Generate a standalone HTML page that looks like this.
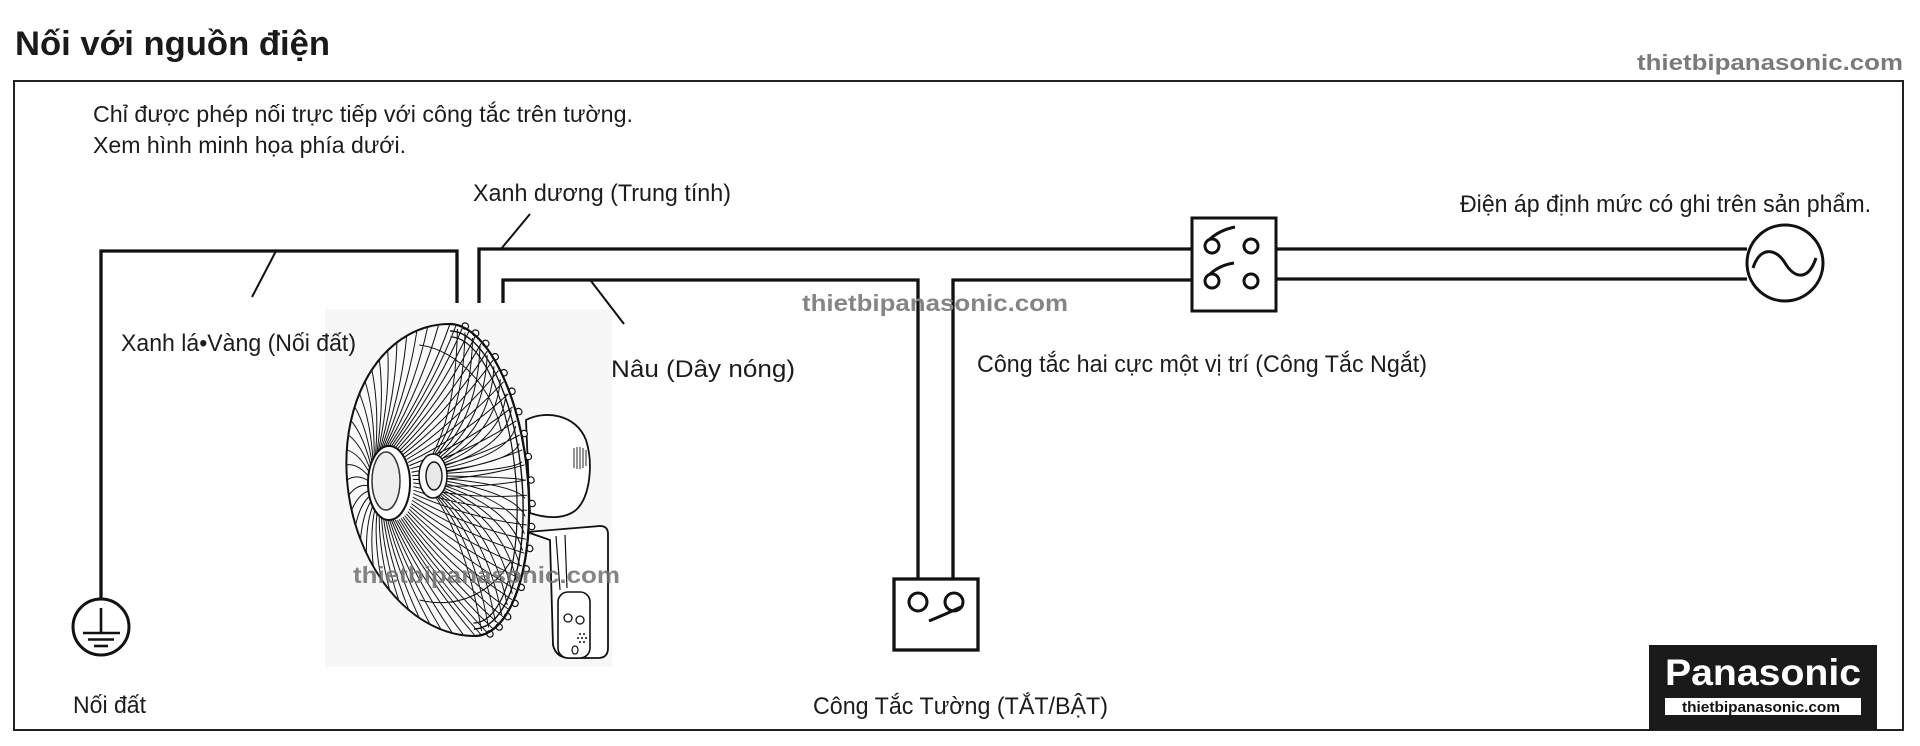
<!DOCTYPE html>
<html><head><meta charset="utf-8">
<style>
html,body{margin:0;padding:0;background:#fff;}
svg{display:block;}
text{font-family:"Liberation Sans",Arial,sans-serif;}
</style></head>
<body>
<svg id="root" width="1920" height="746" viewBox="0 0 1920 746" xmlns="http://www.w3.org/2000/svg">
<rect x="0" y="0" width="1920" height="746" fill="#fff"/>
<!-- title -->
<text x="15" y="55" font-size="34" font-weight="bold" fill="#1a1a1a" textLength="315" lengthAdjust="spacingAndGlyphs">Nối với nguồn điện</text>
<text x="1637" y="70" font-size="22" font-weight="bold" fill="#7a7a7a" textLength="266" lengthAdjust="spacingAndGlyphs">thietbipanasonic.com</text>
<!-- frame -->
<rect x="14" y="81" width="1889" height="649" fill="none" stroke="#222" stroke-width="2"/>

<text x="93" y="122" font-size="23" fill="#1c1c1c" textLength="540" lengthAdjust="spacingAndGlyphs">Chỉ được phép nối trực tiếp với công tắc trên tường.</text>
<text x="93" y="153" font-size="23" fill="#1c1c1c" textLength="313" lengthAdjust="spacingAndGlyphs">Xem hình minh họa phía dưới.</text>

<!-- fan backdrop -->
<rect x="325" y="309" width="287" height="358" fill="#f7f7f7"/>

<!-- wires -->
<g fill="none" stroke="#111" stroke-width="3.3" stroke-linejoin="miter">
  <path d="M101,599 V251 H457 V303"/>
  <path d="M479,303 V249 H1192"/>
  <path d="M503,303 V280 H918 V579"/>
  <path d="M953,579 V280 H1192"/>
  <path d="M1276,249 H1747"/>
  <path d="M1276,279 H1747"/>
</g>
<!-- leaders -->
<g stroke="#111" stroke-width="2" fill="none">
  <path d="M276,251 L252,297"/>
  <path d="M530,214 L501,249"/>
  <path d="M591,281 L624,324"/>
</g>

<!-- AC source -->
<circle cx="1785" cy="263" r="38" fill="#fff" stroke="#111" stroke-width="3"/>
<path d="M1753,268 C1760,246 1776,248 1785,263 S1808,282 1816,258" fill="none" stroke="#111" stroke-width="3"/>

<!-- double pole switch -->
<rect x="1192" y="218" width="84" height="93" fill="#fff" stroke="#111" stroke-width="3"/>
<g fill="none" stroke="#111" stroke-width="3">
  <circle cx="1212" cy="246" r="7"/>
  <circle cx="1251" cy="246" r="7"/>
  <circle cx="1212" cy="281" r="7"/>
  <circle cx="1251" cy="281" r="7"/>
  <path d="M1210,239 Q1220,230 1235,227"/>
  <path d="M1210,274 Q1220,265 1234,263"/>
</g>

<!-- wall switch -->
<rect x="894" y="579" width="84" height="71" fill="#fff" stroke="#111" stroke-width="3.3"/>
<g fill="none" stroke="#111" stroke-width="3">
  <circle cx="918" cy="602" r="9"/>
  <circle cx="954" cy="602" r="9"/>
  <path d="M929,621 Q946,614 961,607"/>
</g>

<!-- ground symbol -->
<circle cx="101" cy="627" r="28" fill="none" stroke="#111" stroke-width="3"/>
<g stroke="#111" stroke-width="2.6">
  <path d="M101,608 V633"/>
  <path d="M83,633 H120"/>
  <path d="M88,639.5 H114"/>
  <path d="M94,646 H108"/>
</g>

<!-- FAN -->
<g id="fan">
  <!-- motor housing -->
  <path d="M526,420 C545,410 576,414 586,440 C593,462 591,496 576,510 C562,521 542,517 530,513 Z" fill="#fff" stroke="#111" stroke-width="1.8"/>
  <g stroke="#111" stroke-width="0.9">
    <path d="M574,448 V468 M577,447 V469 M580,447 V469 M583,448 V468 M586,450 V466"/>
  </g>
  <!-- bracket -->
  <path d="M527,532 L600,526 Q608,526 608,534 L608,648 Q608,658 598,658 L570,658 Q556,658 553,645 L550,540 Z" fill="#fff" stroke="#111" stroke-width="1.8"/>
  <path d="M556,536 L560,590" stroke="#111" stroke-width="1.2" fill="none"/>
  <path d="M565,535 L567,588" stroke="#111" stroke-width="1.2" fill="none"/>
  <rect x="558" y="592" width="32" height="66" rx="10" fill="#fff" stroke="#111" stroke-width="1.6"/>
  <circle cx="568" cy="618" r="4" fill="none" stroke="#111" stroke-width="1.3"/>
  <circle cx="580" cy="620" r="4" fill="none" stroke="#111" stroke-width="1.3"/>
  <g fill="#111">
    <circle cx="580" cy="634" r="1"/><circle cx="584" cy="634" r="1"/>
    <circle cx="578" cy="638" r="1"/><circle cx="582" cy="638" r="1"/><circle cx="586" cy="638" r="1"/>
    <circle cx="580" cy="642" r="1"/><circle cx="584" cy="642" r="1"/>
  </g>
  <ellipse cx="575" cy="650" rx="3" ry="4" fill="none" stroke="#111" stroke-width="1.2"/>

  <!-- grill (skewed group) -->
  <g transform="matrix(1 0 0.08 1 -38.4 0)">
    <path d="M462,324 A115,156 0 0 0 462,636 A66,156 0 0 0 462,324 Z" fill="#fafafa" stroke="#111" stroke-width="2"/>
    <g id="spokes" fill="none" stroke="#111" stroke-width="1"></g>
    <g id="scallops" fill="#fff" stroke="#111" stroke-width="1.2"></g>
    <path d="M462,324 A66,156 0 0 1 462,636" fill="none" stroke="#111" stroke-width="2.2"/>
    <path d="M462,331 A60,149 0 0 1 462,629" fill="none" stroke="#111" stroke-width="1.4"/>
    <path d="M462,337 A54,143 0 0 1 462,623" fill="none" stroke="#111" stroke-width="1.2"/>
  </g>
  <!-- motor centre rings -->
  <ellipse cx="433" cy="476" rx="14" ry="22" fill="#fafafa" stroke="#111" stroke-width="1.5"/>
  <ellipse cx="434" cy="476" rx="8" ry="14" fill="#e8e8e8" stroke="#111" stroke-width="1.4"/>
  <!-- hub -->
  <ellipse cx="389" cy="483" rx="21" ry="37" fill="#fff" stroke="#111" stroke-width="2"/>
  <ellipse cx="386" cy="481" rx="14" ry="29" fill="#eee" stroke="#333" stroke-width="1.5"/>
</g>

<!-- labels -->
<text x="473" y="201" font-size="24" fill="#1c1c1c" textLength="258" lengthAdjust="spacingAndGlyphs">Xanh dương (Trung tính)</text>
<text x="1460" y="212" font-size="24" fill="#1c1c1c" textLength="411" lengthAdjust="spacingAndGlyphs">Điện áp định mức có ghi trên sản phẩm.</text>
<text x="121" y="351" font-size="24" fill="#1c1c1c" textLength="235" lengthAdjust="spacingAndGlyphs">Xanh lá•Vàng (Nối đất)</text>
<text x="611" y="377" font-size="24" fill="#1c1c1c" textLength="184" lengthAdjust="spacingAndGlyphs">Nâu (Dây nóng)</text>
<text x="977" y="372" font-size="24" fill="#1c1c1c" textLength="450" lengthAdjust="spacingAndGlyphs">Công tắc hai cực một vị trí (Công Tắc Ngắt)</text>
<text x="813" y="714" font-size="24" fill="#1c1c1c" textLength="295" lengthAdjust="spacingAndGlyphs">Công Tắc Tường (TẮT/BẬT)</text>
<text x="73" y="713" font-size="24" fill="#1c1c1c" textLength="73" lengthAdjust="spacingAndGlyphs">Nối đất</text>

<!-- watermarks -->
<text x="802" y="311" font-size="23" font-weight="bold" fill="#858585" textLength="266" lengthAdjust="spacingAndGlyphs">thietbipanasonic.com</text>
<text x="353" y="583" font-size="23" font-weight="bold" fill="#707070" fill-opacity="0.85" textLength="267" lengthAdjust="spacingAndGlyphs">thietbipanasonic.com</text>

<!-- Panasonic logo -->
<rect x="1649" y="645" width="228" height="85" fill="#1a1a1a"/>
<text x="1665" y="685" font-size="37" font-weight="bold" fill="#fff" textLength="196" lengthAdjust="spacingAndGlyphs">Panasonic</text>
<rect x="1665" y="698" width="196" height="17" fill="#fff"/>
<text x="1682" y="712" font-size="15" font-weight="bold" fill="#111" textLength="158" lengthAdjust="spacingAndGlyphs">thietbipanasonic.com</text>
</svg>
<script>
(function(){
  var NS="http://www.w3.org/2000/svg";
  var sp=document.getElementById('spokes');
  var d='';
  var N=64;
  for(var i=0;i<N;i++){
    var t=i/N*2*Math.PI, c=Math.cos(t), s=Math.sin(t);
    var bx=462+(c<0?115:64)*c, by=480+155*s;
    var hx=392+21*c, hy=483+37*s;
    var mx=(bx+hx)/2 - s*9, my=(by+hy)/2 + c*9;
    d+='M'+hx.toFixed(1)+','+hy.toFixed(1)+'Q'+mx.toFixed(1)+','+my.toFixed(1)+' '+bx.toFixed(1)+','+by.toFixed(1);
  }
  // back spokes converging to motor centre (skewed coords: x=433 -> real 433)
  for(var j=-12;j<=12;j++){
    var a=j/13*Math.PI/2, c2=Math.cos(a), s2=Math.sin(a);
    var rx=462+62*c2, ry=480+152*s2;
    var cx0=433+14*c2, cy0=476+22*s2;
    var mx2=rx-8, my2=cy0+(ry-cy0)*0.35;
    d+='M'+cx0.toFixed(1)+','+cy0.toFixed(1)+'Q'+mx2.toFixed(1)+','+my2.toFixed(1)+' '+rx.toFixed(1)+','+ry.toFixed(1);
  }
  // blade outline arcs
  d+='M430,345 C470,350 500,390 505,430';
  d+='M410,600 C450,610 485,590 505,560';
  var p=document.createElementNS(NS,'path');
  p.setAttribute('d',d);
  sp.appendChild(p);
  var sc=document.getElementById('scallops');
  for(var k=-9;k<=9;k++){
    var b=k/10*Math.PI/2*0.95;
    var x=462+69*Math.cos(b), y=480+158*Math.sin(b);
    var ci=document.createElementNS(NS,'circle');
    ci.setAttribute('cx',x.toFixed(1));ci.setAttribute('cy',y.toFixed(1));ci.setAttribute('r','3.2');
    sc.appendChild(ci);
  }
})();
</script>
</body></html>
